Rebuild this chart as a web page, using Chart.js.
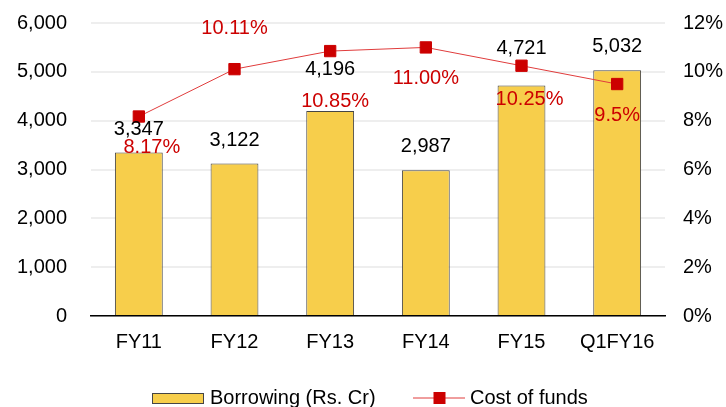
<!DOCTYPE html>
<html>
<head>
<meta charset="utf-8">
<script src="https://cdn.jsdelivr.net/npm/chart.js@4.4.1/dist/chart.umd.min.js"></script>
<style>
  html, body { margin: 0; padding: 0; background: #ffffff; }
  #wrap { width: 726px; height: 407px; }
</style>
</head>
<body>
<div id="wrap"><canvas id="c" width="726" height="407"></canvas></div>
<script>
// ---- data ----
const categories = ['FY11', 'FY12', 'FY13', 'FY14', 'FY15', 'Q1FY16'];
const borrowing = [3347, 3122, 4196, 2987, 4721, 5032];
const costOfFunds = [8.17, 10.11, 10.85, 11.00, 10.25, 9.5];
const costLabels = ['8.17%', '10.11%', '10.85%', '11.00%', '10.25%', '9.5%'];
const leftTicks = [0, 1000, 2000, 3000, 4000, 5000, 6000];
const rightTicks = [0, 2, 4, 6, 8, 10, 12];
const seriesNames = ['Borrowing (Rs. Cr)', 'Cost of funds'];

// ---- label placement (relative to the drawn element) ----
const barLabelDy = [-23, -23, -42, -24, -37, -24];
const lineLabelDx = [13, 0, 5, 0, 8, 0];
const lineLabelDy = [31, -41, 50, 31, 34, 31];

const FONT = '"Liberation Sans", Arial, sans-serif';
const BAR_FILL = '#F7CE4B';
const BAR_EDGE = '#454545';
const LINE_COLOR = '#E03C3C';
const MARK_COLOR = '#CC0000';

const labelPlugin = {
  id: 'valueLabels',
  afterDatasetsDraw(chart) {
    const ctx = chart.ctx;
    ctx.save();
    ctx.font = '20px ' + FONT;
    ctx.textAlign = 'center';
    ctx.textBaseline = 'middle';
    const barMeta = chart.getDatasetMeta(1);
    ctx.fillStyle = '#000000';
    barMeta.data.forEach((el, i) => {
      ctx.fillText(borrowing[i].toLocaleString('en-US'), el.x, el.y + barLabelDy[i]);
    });
    const lineMeta = chart.getDatasetMeta(0);
    ctx.fillStyle = MARK_COLOR;
    lineMeta.data.forEach((el, i) => {
      ctx.fillText(costLabels[i], el.x + lineLabelDx[i], el.y + lineLabelDy[i]);
    });
    ctx.restore();
  }
};

const legendPlugin = {
  id: 'customLegend',
  afterDraw(chart) {
    const ctx = chart.ctx;
    ctx.save();
    // bar entry
    ctx.fillStyle = BAR_FILL;
    ctx.fillRect(152, 393, 51, 10);
    ctx.strokeStyle = BAR_EDGE;
    ctx.lineWidth = 1;
    ctx.strokeRect(152.5, 393.5, 51, 10);
    ctx.font = '20px ' + FONT;
    ctx.textAlign = 'left';
    ctx.textBaseline = 'alphabetic';
    ctx.fillStyle = '#000000';
    ctx.fillText(seriesNames[0], 210, 404);
    // line entry
    ctx.strokeStyle = LINE_COLOR;
    ctx.beginPath();
    ctx.moveTo(413, 398);
    ctx.lineTo(465, 398);
    ctx.stroke();
    ctx.fillStyle = MARK_COLOR;
    ctx.fillRect(433.5, 392, 12, 12);
    ctx.fillStyle = '#000000';
    ctx.fillText(seriesNames[1], 470, 404);
    ctx.restore();
  }
};

function noVertPad(scale) {
  scale.paddingTop = 0;
  scale.paddingBottom = 0;
}

new Chart(document.getElementById('c'), {
  data: {
    labels: categories,
    datasets: [
      {
        type: 'line',
        label: seriesNames[1],
        data: costOfFunds,
        yAxisID: 'y1',
        borderColor: LINE_COLOR,
        borderWidth: 1,
        pointStyle: 'rect',
        pointRadius: 8,
        pointBackgroundColor: MARK_COLOR,
        pointBorderColor: MARK_COLOR,
        pointBorderWidth: 1,
        tension: 0,
        fill: false
      },
      {
        type: 'bar',
        label: seriesNames[0],
        data: borrowing,
        yAxisID: 'y',
        backgroundColor: BAR_FILL,
        borderColor: BAR_EDGE,
        borderWidth: 1,
        barPercentage: 0.5,
        categoryPercentage: 1.0
      }
    ]
  },
  options: {
    responsive: false,
    devicePixelRatio: 1,
    animation: false,
    layout: { padding: { top: 23, left: 0, right: 0, bottom: 0 } },
    plugins: { legend: { display: false }, tooltip: { enabled: false } },
    scales: {
      x: {
        grid: { display: false, drawTicks: false },
        border: { display: true, color: '#000000', width: 1.5 },
        ticks: { font: { size: 20, family: FONT }, color: '#000000', padding: 14, maxRotation: 0 },
        afterFit(scale) { scale.height = 91; scale.paddingLeft = 0; scale.paddingRight = 0; }
      },
      y: {
        position: 'left',
        min: 0, max: 6000,
        afterBuildTicks(scale) { scale.ticks = leftTicks.map(v => ({ value: v })); },
        ticks: {
          font: { size: 20, family: FONT }, color: '#000000', padding: 24,
          callback: v => Number(v).toLocaleString('en-US')
        },
        grid: { color: '#EEEEEE', lineWidth: 2, drawTicks: false },
        border: { display: false },
        afterFit(scale) { scale.width = 91; noVertPad(scale); }
      },
      y1: {
        position: 'right',
        min: 0, max: 12,
        afterBuildTicks(scale) { scale.ticks = rightTicks.map(v => ({ value: v })); },
        ticks: {
          font: { size: 20, family: FONT }, color: '#000000', padding: 18,
          callback: v => v + '%'
        },
        grid: { display: false, drawTicks: false },
        border: { display: false },
        afterFit(scale) { scale.width = 61; noVertPad(scale); }
      }
    }
  },
  plugins: [labelPlugin, legendPlugin]
});
</script>
</body>
</html>
